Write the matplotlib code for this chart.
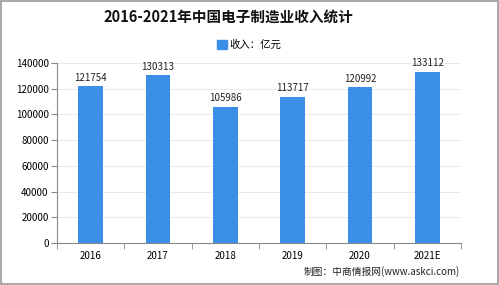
import matplotlib.pyplot as plt
import matplotlib.patches as mpatches

plt.rcParams['font.family'] = ['Noto Sans CJK SC', 'DejaVu Sans']

years = ['2016', '2017', '2018', '2019', '2020', '2021E']
income = [121754, 130313, 105986, 113717, 120992, 133112]
yticks = [0, 20000, 40000, 60000, 80000, 100000, 120000, 140000]

bar_color = '#3b8fe6'

fig = plt.figure(figsize=(4.99, 2.85), dpi=100)
ax = fig.add_axes([57 / 499, 1 - 243 / 285, 404 / 499, 180 / 285])

x = range(len(years))
bars = ax.bar(x, income, width=0.37, color=bar_color, zorder=3)
for xi, v in zip(x, income):
    ax.text(xi, v + 3000, str(v), ha='center', va='bottom', fontsize=7, color='#222222')

ax.set_xlim(-0.5, len(years) - 0.5)
ax.set_ylim(0, 140000)
ax.set_yticks(yticks)
ax.set_yticklabels([str(t) for t in yticks], fontsize=7)
ax.set_xticks(list(x))
ax.set_xticklabels(years, fontsize=7)
ax.set_xticks([i - 0.5 for i in range(len(years) + 1)], minor=True)
ax.tick_params(axis='x', which='major', length=0, pad=6)
ax.tick_params(axis='x', which='minor', length=4, color='#888888', direction='out')
ax.tick_params(axis='y', length=4, color='#888888', pad=2)
ax.grid(axis='y', color='#e6e6e6', linewidth=0.6, zorder=0)
for s in ['top', 'right']:
    ax.spines[s].set_visible(False)
for s in ['left', 'bottom']:
    ax.spines[s].set_color('#888888')
    ax.spines[s].set_linewidth(0.8)

fig.text(228 / 499, 1 - 17 / 285, '2016-2021年中国电子制造业收入统计', ha='center', va='center',
         fontsize=10.5, fontweight='bold', color='#111111')
leg = fig.legend(handles=[mpatches.Patch(color=bar_color, label='收入：亿元')],
                 loc='center', bbox_to_anchor=(0.5, 1 - 45 / 285), frameon=False,
                 fontsize=7.5, handlelength=0.9, handleheight=0.9, handletextpad=0.3)
fig.text(460 / 499, 1 - 272 / 285, '制图：中商情报网(www.askci.com)', ha='right', va='center',
         fontsize=7, color='#222222')

fig.patches.append(mpatches.Rectangle((0.002, 0.003), 0.995, 0.994, transform=fig.transFigure,
                                      fill=False, edgecolor='#999999', linewidth=1.2))

fig.savefig('out.png', dpi=100)
